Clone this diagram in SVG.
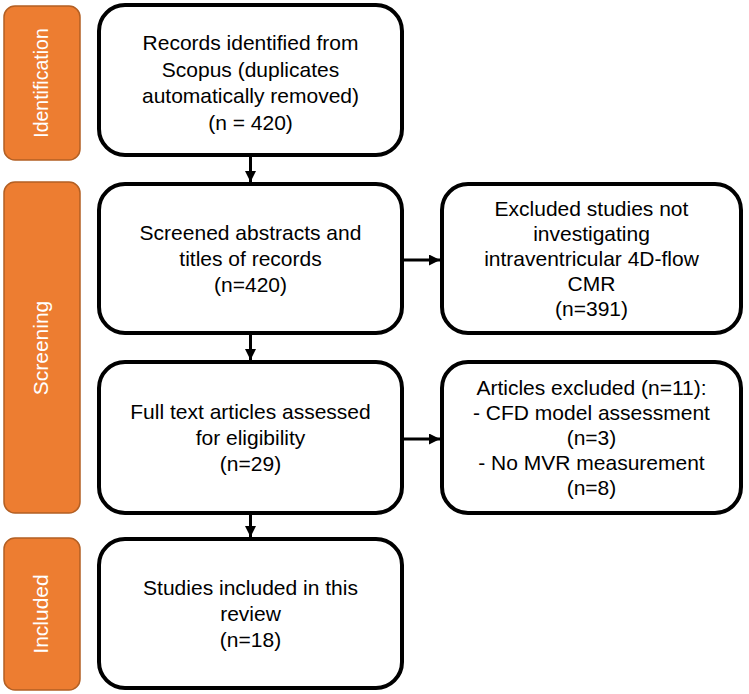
<svg xmlns="http://www.w3.org/2000/svg" width="749" height="694" viewBox="0 0 749 694">
<defs>
<style>
.box{fill:#fff;stroke:#000;stroke-width:4}
.stage{fill:#ED7D31;stroke:#B35F23;stroke-width:1.5}
.t{font-family:"Liberation Sans",Arial,sans-serif;font-size:21px;fill:#000;text-anchor:middle}
.st{font-family:"Liberation Sans",Arial,sans-serif;font-size:21px;fill:#fff;text-anchor:middle}
.c{stroke:#000;stroke-width:3;fill:none}
</style>
<marker id="ah" viewBox="0 0 10 10" refX="10" refY="5" markerWidth="11" markerHeight="11" markerUnits="userSpaceOnUse" orient="auto">
<path d="M0,0 L10,5 L0,10 Z" fill="#000"/>
</marker>
</defs>
<rect width="749" height="694" fill="#fff"/>
<g id="stage-identification">
<rect class="stage" x="4" y="6" width="76" height="154" rx="11"/>
<text class="st" style="font-size:19.5px" transform="translate(48,83) rotate(-90)">Identification</text>
</g>
<g id="stage-screening">
<rect class="stage" x="4" y="182" width="76" height="331" rx="11"/>
<text class="st" transform="translate(48,348) rotate(-90)">Screening</text>
</g>
<g id="stage-included">
<rect class="stage" x="4" y="538" width="76" height="152" rx="11"/>
<text class="st" transform="translate(48,614) rotate(-90)">Included</text>
</g>
<g id="connectors">
<line class="c" x1="250.5" y1="157" x2="250.5" y2="182" marker-end="url(#ah)"/>
<line class="c" x1="250.5" y1="335" x2="250.5" y2="360" marker-end="url(#ah)"/>
<line class="c" x1="250.5" y1="515" x2="250.5" y2="537" marker-end="url(#ah)"/>
<line class="c" x1="404" y1="260" x2="440" y2="260" marker-end="url(#ah)"/>
<line class="c" x1="404" y1="439" x2="440" y2="439" marker-end="url(#ah)"/>
</g>
<g id="records">
<rect class="box" x="99" y="5" width="303" height="150" rx="26"/>
<text class="t" x="250.5" y="50">Records identified from</text>
<text class="t" x="250.5" y="76.5">Scopus (duplicates</text>
<text class="t" x="250.5" y="103">automatically removed)</text>
<text class="t" x="250.5" y="129.5">(n = 420)</text>
</g>
<g id="screened">
<rect class="box" x="99" y="184" width="303" height="149" rx="26"/>
<text class="t" x="250.5" y="240">Screened abstracts and</text>
<text class="t" x="250.5" y="266">titles of records</text>
<text class="t" x="250.5" y="292">(n=420)</text>
</g>
<g id="excluded1">
<rect class="box" x="442" y="184" width="299" height="149" rx="26"/>
<text class="t" x="591.5" y="216">Excluded studies not</text>
<text class="t" x="591.5" y="241">investigating</text>
<text class="t" x="591.5" y="266">intraventricular 4D-flow</text>
<text class="t" x="591.5" y="291">CMR</text>
<text class="t" x="591.5" y="316">(n=391)</text>
</g>
<g id="fulltext">
<rect class="box" x="99" y="362" width="303" height="151" rx="26"/>
<text class="t" x="250.5" y="419">Full text articles assessed</text>
<text class="t" x="250.5" y="445">for eligibility</text>
<text class="t" x="250.5" y="471">(n=29)</text>
</g>
<g id="excluded2">
<rect class="box" x="442" y="362" width="299" height="151" rx="26"/>
<text class="t" x="591.5" y="395">Articles excluded (n=11):</text>
<text class="t" x="591.5" y="420">- CFD model assessment</text>
<text class="t" x="591.5" y="445">(n=3)</text>
<text class="t" x="591.5" y="470">- No MVR measurement</text>
<text class="t" x="591.5" y="495">(n=8)</text>
</g>
<g id="included">
<rect class="box" x="99" y="539" width="303" height="149" rx="26"/>
<text class="t" x="250.5" y="595">Studies included in this</text>
<text class="t" x="250.5" y="621">review</text>
<text class="t" x="250.5" y="647">(n=18)</text>
</g>
</svg>
